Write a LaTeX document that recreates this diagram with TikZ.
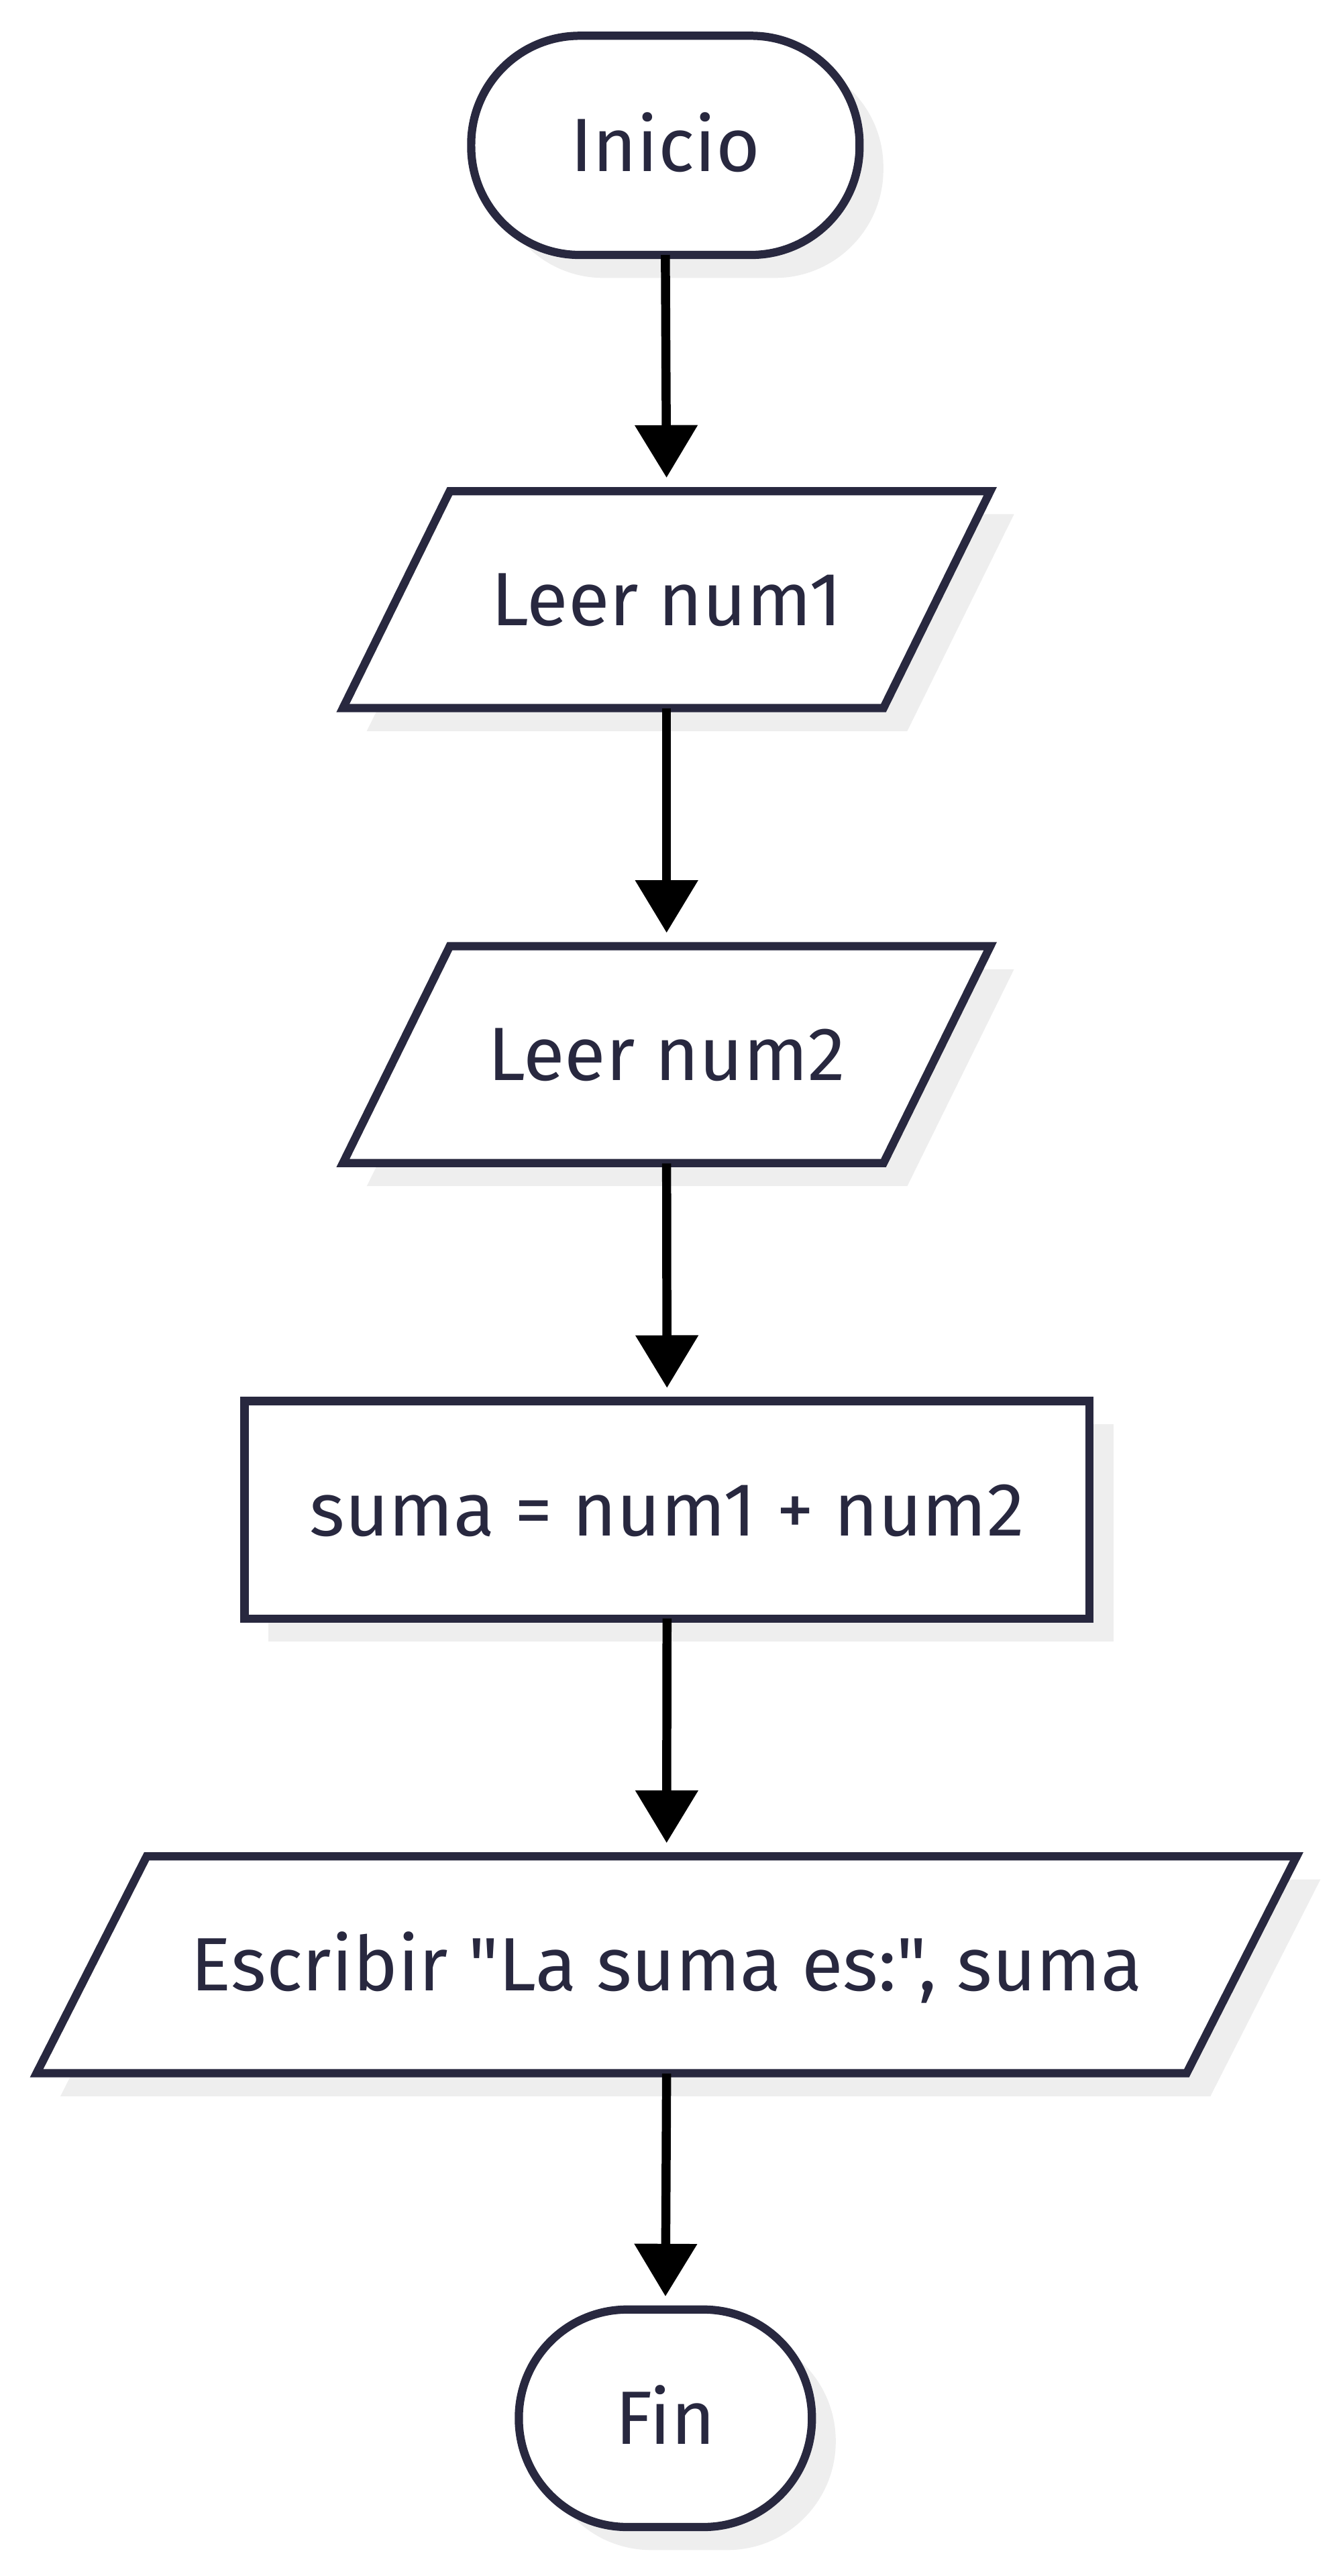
\documentclass[tikz,border=0pt]{standalone}
\usepackage{fontspec}
\setmainfont{Fira Sans}[Ligatures=TeXOff]
\usetikzlibrary{arrows.meta,calc,backgrounds}
\definecolor{ink}{HTML}{28283F}
\definecolor{shadowgray}{HTML}{EEEEEE}
\newcommand\myparashape[3]{%
  \fill[shadowgray] ([shift={(-#2-#3+14.5,-66-14)}]#1.center) -- ([shift={(#2-#3+14.5,-66-14)}]#1.center) -- ([shift={(#2+#3+14.5,66-14)}]#1.center) -- ([shift={(-#2+#3+14.5,66-14)}]#1.center) -- cycle;
  \draw[outline] ([shift={(-#2-#3,-66)}]#1.center) -- ([shift={(#2-#3,-66)}]#1.center) -- ([shift={(#2+#3,66)}]#1.center) -- ([shift={(-#2+#3,66)}]#1.center) -- cycle;}
\begin{document}
\begin{tikzpicture}[x=1pt,y=1pt,
  lbl/.style={font=\fontsize{46}{53}\selectfont, text=ink, inner sep=0pt, text height=31.5pt, text depth=0pt, align=center},
  outline/.style={draw=ink, line width=5pt, fill=white, line join=miter},
  flow/.style={-{Triangle[width=37pt,length=32pt]}, line width=5.5pt, black, shorten >=8pt}
]
\useasboundingbox (0,0) rectangle (815,1568);
\node[lbl, minimum width=236pt, minimum height=133pt] (ini) at (405,1479.5) {Inicio};
\node[lbl, minimum width=329pt, minimum height=132pt] (l1) at (405.75,1203) {Leer num1};
\node[lbl, minimum width=329pt, minimum height=132pt] (l2) at (405.75,926) {Leer num2};
\node[lbl, minimum width=514pt, minimum height=132pt] (sum) at (406,649) {suma = num1 + num2};
\node[lbl, minimum width=700pt, minimum height=132pt] (esc) at (405.75,372) {Escribir "La suma es:", suma};
\node[lbl, minimum width=178pt, minimum height=132pt] (fin) at (405,96) {Fin};
\begin{scope}[on background layer]
  \fill[shadowgray, rounded corners=66pt] ([shift={(14.5,-14)}]ini.south west) rectangle ([shift={(14.5,-14)}]ini.north east);
  \draw[outline, rounded corners=66pt] (ini.south west) rectangle (ini.north east);
  \myparashape{l1}{164.5}{32.5}
  \myparashape{l2}{164.5}{32.5}
  \fill[shadowgray] ([shift={(14.5,-14)}]sum.south west) rectangle ([shift={(14.5,-14)}]sum.north east);
  \draw[outline] (sum.south west) rectangle (sum.north east);
  \myparashape{esc}{350}{33.5}
  \fill[shadowgray, rounded corners=66pt] ([shift={(14.5,-14)}]fin.south west) rectangle ([shift={(14.5,-14)}]fin.north east);
  \draw[outline, rounded corners=66pt] (fin.south west) rectangle (fin.north east);
\end{scope}
\draw[flow] (ini.south) -- (l1.north);
\draw[flow] (l1.south) -- (l2.north);
\draw[flow] (l2.south) -- (sum.north);
\draw[flow] (sum.south) -- (esc.north);
\draw[flow] (esc.south) -- (fin.north);
\end{tikzpicture}
\end{document}
